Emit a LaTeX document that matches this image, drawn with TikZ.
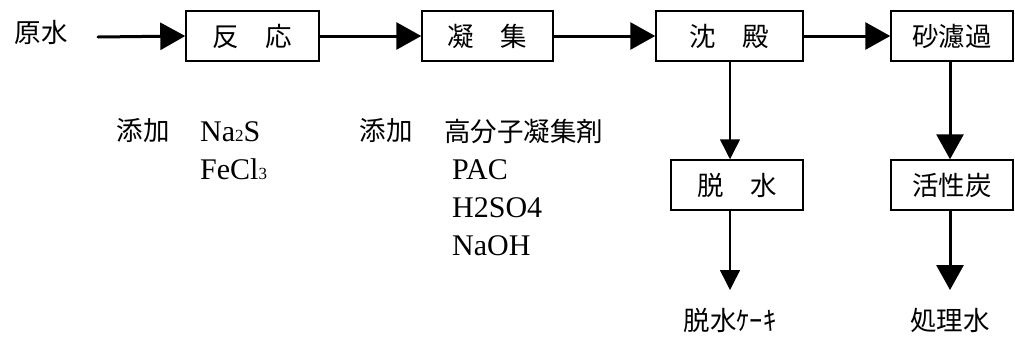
\documentclass[tikz,border=0pt]{standalone}
\usepackage{fontspec}
\setmainfont{Liberation Serif}
\newfontfamily\jp{Noto Sans CJK JP}
\usetikzlibrary{arrows.meta}
\begin{document}
\begin{tikzpicture}[x=1pt,y=-1pt,
  jptext/.style={font=\jp\fontsize{26.5}{28}\selectfont, inner sep=0pt},
  latin/.style={font=\fontsize{30}{32}\selectfont, inner sep=0pt, anchor=base west},
  procbox/.style={draw, line width=1.5pt, minimum height=50pt, inner sep=0pt,
    font=\jp\fontsize{26.5}{28}\selectfont},
  thickarrow/.style={line width=3pt, -{Triangle[length=25pt,width=27pt]}},
  thinarrow/.style={line width=1.5pt, -{Triangle[length=20pt,width=20pt]}}]
\useasboundingbox (0,0) rectangle (1015,341);
\node[jptext] (genzui) at (41,32) {原水};
\coordinate (start) at (98,37);
\node[procbox, minimum width=133pt] (hanno) at (252.5,36) {反　応};
\node[procbox, minimum width=131pt] (gyoshu) at (487.5,36) {凝　集};
\node[procbox, minimum width=147pt] (chinden) at (729.5,36) {沈　殿};
\node[procbox, minimum width=122pt] (sharoka) at (952,36) {砂濾過};
\node[procbox, minimum width=132pt] (dassui) at (737,185) {脱　水};
\node[procbox, minimum width=122pt] (katsusei) at (952,185) {活性炭};
\node[jptext] (cake) at (730,320) {脱水ｹｰｷ};
\node[jptext] (shori) at (950,320) {処理水};
\coordinate (cakeend) at (730,290);
\coordinate (shoriend) at (950,290);
\draw[thickarrow, line cap=round] (start) -- (hanno.west);
\draw[thickarrow] (hanno) -- (gyoshu);
\draw[thickarrow] (gyoshu) -- (chinden);
\draw[thickarrow] (chinden) -- (sharoka);
\draw[thinarrow] (chinden.south -| cakeend) -- (dassui.north -| cakeend);
\draw[thinarrow] (dassui.south -| cakeend) -- (cakeend);
\draw[thickarrow] (sharoka.south -| shoriend) -- (katsusei.north -| shoriend);
\draw[thickarrow] (katsusei.south -| shoriend) -- (shoriend);
\node[jptext] (tenka1) at (143,131) {添加};
\node[jptext] (tenka2) at (386,131) {添加};
\node[jptext, anchor=west] (kobunshi) at (444,131) {高分子凝集剤};
\node[latin] (na2s) at (200,141) {Na{\fontsize{17}{17}\selectfont 2}S};
\node[latin] (fecl3) at (200,179) {FeCl{\fontsize{17}{17}\selectfont 3}};
\node[latin] (pac) at (452,179) {PAC};
\node[latin] (h2so4) at (452,217) {H2SO4};
\node[latin] (naoh) at (452,255) {NaOH};
\end{tikzpicture}
\end{document}
